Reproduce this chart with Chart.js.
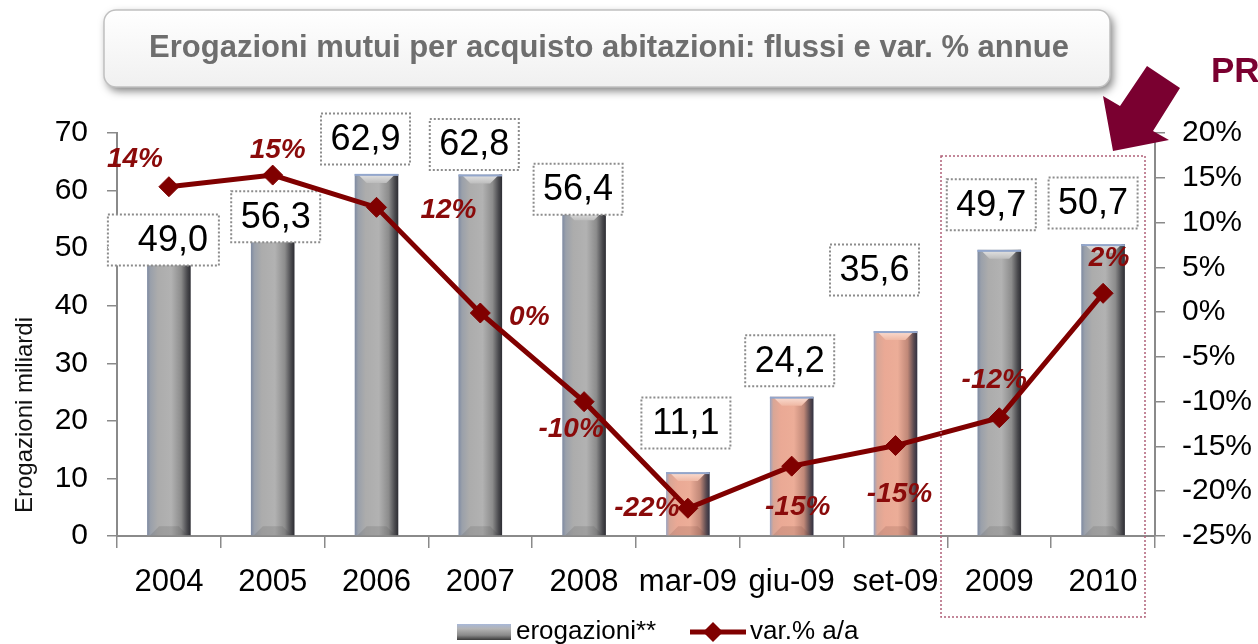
<!DOCTYPE html>
<html>
<head>
<meta charset="utf-8">
<script src="https://cdn.jsdelivr.net/npm/chart.js@4.4.0/dist/chart.umd.min.js"></script>
<style>
  html, body { margin: 0; padding: 0; background: #fff; }
  #wrap { width: 1258px; height: 644px; position: relative; overflow: hidden; }
</style>
</head>
<body>
<div id="wrap"><canvas id="chart" width="1258" height="644"></canvas></div>
<script>
// Erogazioni mutui - flussi (mld) e var. % a/a

const categories = ['2004', '2005', '2006', '2007', '2008', 'mar-09', 'giu-09', 'set-09', '2009', '2010'];
const erogazioni = [49.0, 56.3, 62.9, 62.8, 56.4, 11.1, 24.2, 35.6, 49.7, 50.7];
const varPct = [14.0, 15.3, 11.7, -0.1, -10.0, -21.9, -17.2, -14.9, -11.8, 2.1];
const varLabels = ['14%', '15%', '12%', '0%', '-10%', '-22%', '-15%', '-15%', '-12%', '2%'];
const isQuarter = [false, false, false, false, false, true, true, true, false, false];
const leftAxis = { min: 0, max: 70, step: 10 };
const rightAxis = { min: -25, max: 20, step: 5 };

const FONT = 'Arial, "Liberation Sans", sans-serif';
const LINE_RED = '#800000';
const LABEL_RED = '#8a0a0a';
const BAR_PCT = 0.42;

// label offsets from the mark (px), as placed by hand in the original
const barLblDx = [4, 3, -11, -6, -6, -2, -2, -21, -8, -10];
const barLblDy = [-14, 5, -35, -30, -22, -49, -36, -61, -45, -41];
const pctLblDx = [-34, 5, 72, 49, -13, -41, 6, 4, -5, 6];
const pctLblDy = [-27, -25, 3, 4, 28, 0, 41, 49, -38, -35];

const GREY = [[0, '#7e8aa2'], [0.08, '#9aa0aa'], [0.25, '#acacac'], [0.55, '#b2b2b2'], [0.78, '#8c8c8c'], [0.92, '#4a4a4e'], [1, '#2c2c32']];
const SALMON = [[0, '#98a2c0'], [0.08, '#d8a696'], [0.25, '#eaa995'], [0.55, '#ecad98'], [0.78, '#c08878'], [0.92, '#5a4a50'], [1, '#303040']];

function barFill(ctx) {
  const chart = ctx.chart;
  const xs = chart.scales.x;
  if (!chart.chartArea || !xs || ctx.dataIndex === undefined) return '#b0b0b0';
  const cx = xs.getPixelForValue(ctx.dataIndex);
  const w = xs.width / categories.length * BAR_PCT;
  const g = chart.ctx.createLinearGradient(cx - w / 2, 0, cx + w / 2, 0);
  (isQuarter[ctx.dataIndex] ? SALMON : GREY).forEach(([s, c]) => g.addColorStop(s, c));
  return g;
}

const fmt = v => v.toFixed(1).replace('.', ',');

function dottedBox(c, x, y, w, h, color) {
  c.save();
  c.setLineDash([2, 2]);
  c.lineWidth = 2;
  c.strokeStyle = color;
  c.strokeRect(x, y, w, h);
  c.restore();
}

const decor = {
  id: 'decor',
  beforeDraw(chart) {
    const c = chart.ctx;
    // title box
    c.save();
    c.shadowColor = 'rgba(0,0,0,0.5)';
    c.shadowBlur = 8;
    c.shadowOffsetX = 3;
    c.shadowOffsetY = 4;
    const g = c.createLinearGradient(0, 10, 0, 88);
    g.addColorStop(0, '#ffffff');
    g.addColorStop(1, '#f0f0f0');
    c.fillStyle = g;
    c.beginPath();
    c.roundRect(104, 10, 1006, 77, 12);
    c.fill();
    c.restore();
    c.save();
    c.strokeStyle = '#c0c0c0';
    c.lineWidth = 1.5;
    c.beginPath();
    c.roundRect(104, 10, 1006, 77, 12);
    c.stroke();
    c.fillStyle = '#6e6e6e';
    c.font = 'bold 31px ' + FONT;
    c.textAlign = 'center';
    c.textBaseline = 'middle';
    c.fillText('Erogazioni mutui per acquisto abitazioni: flussi e var. % annue', 609, 48);
    c.restore();
  },
  afterDatasetDraw(chart, args) {
    if (args.index !== 0) return;
    const c = chart.ctx;
    const meta = chart.getDatasetMeta(0);
    c.save();
    meta.data.forEach((el, i) => {
      const { x, y, base, width } = el.getProps(['x', 'y', 'base', 'width'], true);
      const l = x - width / 2, r = x + width / 2, b = 9;
      // top bevel
      const tg = c.createLinearGradient(0, y, 0, y + b);
      tg.addColorStop(0, isQuarter[i] ? '#fbe0d6' : '#e6e6e6');
      tg.addColorStop(1, isQuarter[i] ? '#efb8a4' : '#bdbdbd');
      c.fillStyle = tg;
      c.beginPath();
      c.moveTo(l + 3, y); c.lineTo(r - 3, y); c.lineTo(r - b - 3, y + b); c.lineTo(l + b + 3, y + b);
      c.closePath();
      c.fill();
      // bottom bevel
      c.fillStyle = isQuarter[i] ? 'rgba(120,70,60,0.18)' : 'rgba(60,60,60,0.15)';
      c.beginPath();
      c.moveTo(l + 3, base); c.lineTo(r - 3, base); c.lineTo(r - b - 3, base - b); c.lineTo(l + b + 3, base - b);
      c.closePath();
      c.fill();
      // blue-grey rim on top
      c.fillStyle = '#92a6cc';
      c.fillRect(l, y, width, 2);
    });
    // value boxes
    c.font = '36px ' + FONT;
    c.textAlign = 'center';
    c.textBaseline = 'middle';
    meta.data.forEach((el, i) => {
      const { x, y } = el.getProps(['x', 'y'], true);
      const cx = x + barLblDx[i], cy = y + barLblDy[i];
      const bw = i === 0 ? 111 : 89, bh = 51;
      const bx = i === 0 ? cx - 65 : cx - bw / 2;
      c.fillStyle = '#fff';
      c.fillRect(bx, cy - bh / 2, bw, bh);
      dottedBox(c, bx, cy - bh / 2, bw, bh, '#8c8c8c');
      c.fillStyle = '#000';
      c.fillText(fmt(erogazioni[i]), cx, cy + 1);
    });
    c.restore();
  },
  afterDatasetsDraw(chart) {
    const c = chart.ctx;
    const meta = chart.getDatasetMeta(1);
    c.save();
    c.font = 'italic bold 28px ' + FONT;
    c.fillStyle = LABEL_RED;
    c.textAlign = 'center';
    c.textBaseline = 'middle';
    meta.data.forEach((el, i) => {
      const { x, y } = el.getProps(['x', 'y'], true);
      c.fillText(varLabels[i], x + pctLblDx[i], y + pctLblDy[i]);
    });
    c.restore();
  },
  afterDraw(chart) {
    const c = chart.ctx;
    c.save();
    // highlight of the 2009-2010 columns
    c.setLineDash([2, 2]);
    c.lineWidth = 1.5;
    c.strokeStyle = '#b06078';
    c.strokeRect(941, 156, 204, 461);
    c.setLineDash([]);

    // arrow
    c.fillStyle = '#7a0030';
    c.beginPath();
    c.moveTo(1113, 151);
    c.lineTo(1103, 96);
    c.lineTo(1120, 106);
    c.lineTo(1147, 66);
    c.lineTo(1180, 88);
    c.lineTo(1153, 131);
    c.lineTo(1169, 140);
    c.closePath();
    c.fill();
    c.font = 'bold 35px ' + FONT;
    c.textAlign = 'left';
    c.textBaseline = 'alphabetic';
    c.fillText('PR', 1211, 82);

    // y axis title
    c.save();
    c.translate(25, 415);
    c.rotate(-Math.PI / 2);
    c.fillStyle = '#111';
    c.font = '24px ' + FONT;
    c.textAlign = 'center';
    c.textBaseline = 'middle';
    c.fillText('Erogazioni miliardi', 0, 0);
    c.restore();

    // legend
    const lg = c.createLinearGradient(0, 624, 0, 640);
    lg.addColorStop(0, '#a8b8d8');
    lg.addColorStop(0.3, '#b4b4b4');
    lg.addColorStop(0.7, '#8a8a8a');
    lg.addColorStop(1, '#3a3a3a');
    c.fillStyle = lg;
    c.fillRect(457, 624, 54, 16);
    c.font = '26px ' + FONT;
    c.fillStyle = '#000';
    c.fillText('erogazioni**', 516, 639);
    c.strokeStyle = LINE_RED;
    c.lineWidth = 5;
    c.beginPath();
    c.moveTo(690, 632);
    c.lineTo(746, 632);
    c.stroke();
    c.fillStyle = LINE_RED;
    c.beginPath();
    c.moveTo(713, 622); c.lineTo(723, 632); c.lineTo(713, 642); c.lineTo(703, 632);
    c.closePath();
    c.fill();
    c.fillStyle = '#000';
    c.fillText('var.% a/a', 750, 639);
    c.restore();
  }
};

new Chart(document.getElementById('chart'), {
  type: 'bar',
  data: {
    labels: categories,
    datasets: [
      {
        type: 'bar',
        label: 'erogazioni**',
        data: erogazioni,
        yAxisID: 'y',
        order: 2,
        backgroundColor: barFill,
        borderWidth: 0,
        barPercentage: BAR_PCT,
        categoryPercentage: 1
      },
      {
        type: 'line',
        label: 'var.% a/a',
        data: varPct,
        yAxisID: 'y1',
        order: 1,
        borderColor: LINE_RED,
        backgroundColor: LINE_RED,
        borderWidth: 5,
        tension: 0,
        pointStyle: 'rectRot',
        pointRadius: 10,
        pointBorderWidth: 1,
        pointBackgroundColor: LINE_RED,
        pointBorderColor: LINE_RED
      }
    ]
  },
  options: {
    responsive: false,
    animation: false,
    layout: { padding: { top: 133, left: 0, right: 0, bottom: 0 } },
    plugins: { legend: { display: false }, tooltip: { enabled: false }, title: { display: false } },
    scales: {
      x: {
        offset: true,
        grid: { offset: true, drawOnChartArea: false, drawTicks: true, tickLength: 12, color: '#8a8a8a', lineWidth: 1.5 },
        border: { display: true, color: '#8a8a8a', width: 2 },
        ticks: { color: '#000', font: { size: 31, family: FONT }, padding: 16, maxRotation: 0, autoSkip: false },
        afterFit: s => { s.height = 108; }
      },
      y: {
        position: 'left',
        min: leftAxis.min,
        max: leftAxis.max,
        ticks: { stepSize: leftAxis.step, color: '#000', font: { size: 30, family: FONT }, padding: 19 },
        grid: { drawOnChartArea: false, drawTicks: true, tickLength: 10, color: '#8a8a8a', lineWidth: 1.5 },
        border: { display: true, color: '#8a8a8a', width: 2 },
        afterFit: s => { s.width = 117; }
      },
      y1: {
        position: 'right',
        min: rightAxis.min,
        max: rightAxis.max,
        ticks: { stepSize: rightAxis.step, color: '#000', font: { size: 30, family: FONT }, padding: 17, callback: v => v + '%' },
        grid: { drawOnChartArea: false, drawTicks: true, tickLength: 10, color: '#8a8a8a', lineWidth: 1.5 },
        border: { display: true, color: '#8a8a8a', width: 2 },
        afterFit: s => { s.width = 103; }
      }
    }
  },
  plugins: [decor]
});
</script>
</body>
</html>
